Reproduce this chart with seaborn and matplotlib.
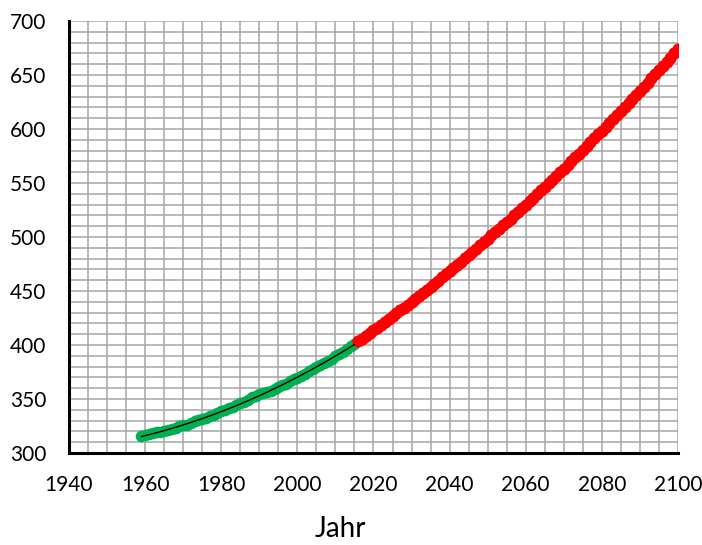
import numpy as np
import pandas as pd
import matplotlib
matplotlib.use("Agg")
import matplotlib.pyplot as plt
from matplotlib.ticker import MultipleLocator
import seaborn as sns

# Measured annual mean CO2 (ppm), 1959-2015
measured_years = list(range(1959, 2016))
measured_ppm = [
    315.97, 316.91, 317.64, 318.45, 318.99, 319.62, 320.04, 321.38, 322.16, 323.04,
    324.62, 325.68, 326.32, 327.45, 329.68, 330.18, 331.11, 332.04, 333.83, 335.40,
    336.84, 338.75, 340.11, 341.45, 343.05, 344.65, 346.12, 347.42, 349.19, 351.57,
    353.12, 354.39, 355.61, 356.45, 357.10, 358.83, 360.82, 362.61, 363.73, 366.70,
    368.38, 369.55, 371.14, 373.28, 375.80, 377.52, 379.80, 381.90, 383.79, 385.60,
    387.43, 389.90, 391.65, 393.85, 396.52, 398.65, 400.83,
]

# Projected CO2 (ppm), 2016-2100
projected_years = list(range(2016, 2101))
projected_ppm = [
    403.5, 406.0, 408.5, 411.1, 413.6, 416.2, 418.8, 421.4, 424.0, 426.6,
    429.3, 432.0, 434.7, 437.4, 440.1, 442.9, 445.6, 448.4, 451.2, 454.0,
    456.8, 459.7, 462.6, 465.4, 468.3, 471.3, 474.2, 477.2, 480.1, 483.1,
    486.1, 489.1, 492.2, 495.2, 498.3, 501.4, 504.5, 507.6, 510.8, 513.9,
    517.1, 520.3, 523.5, 526.7, 530.0, 533.2, 536.5, 539.8, 543.1, 546.5,
    549.8, 553.2, 556.6, 560.0, 563.4, 566.8, 570.3, 573.8, 577.2, 580.7,
    584.3, 587.8, 591.4, 594.9, 598.5, 602.1, 605.8, 609.4, 613.1, 616.7,
    620.4, 624.2, 627.9, 631.6, 635.4, 639.2, 643.0, 646.8, 650.6, 654.5,
    658.3, 662.2, 666.1, 670.0, 674.0,
]

x_label = "Jahr"

sns.set_style("white")
plt.rcParams["font.family"] = ["Lato", "DejaVu Sans"]

measured = pd.DataFrame({"Jahr": measured_years, "ppm": measured_ppm})
projected = pd.DataFrame({"Jahr": projected_years, "ppm": projected_ppm})

fig = plt.figure(figsize=(7.02, 5.45), dpi=100)
ax = fig.add_axes([0.0983, 0.1688, 0.8675, 0.7927])

sns.scatterplot(data=measured, x="Jahr", y="ppm", ax=ax, color="#00B050",
                s=70, linewidth=0, zorder=3, legend=False)
sns.scatterplot(data=projected, x="Jahr", y="ppm", ax=ax, color="#FF0000",
                s=78, linewidth=0, zorder=3, legend=False)
sns.regplot(data=measured, x="Jahr", y="ppm", ax=ax, order=2, ci=None,
            scatter=False, truncate=True,
            line_kws={"color": "black", "linewidth": 1.0, "zorder": 4})

ax.set_xlim(1940, 2100)
ax.set_ylim(300, 700)
ax.xaxis.set_major_locator(MultipleLocator(20))
ax.xaxis.set_minor_locator(MultipleLocator(5))
ax.yaxis.set_major_locator(MultipleLocator(50))
ax.yaxis.set_minor_locator(MultipleLocator(10))

ax.grid(True, which="both", color="#A6A6A6", linewidth=1.1, zorder=0)
ax.set_axisbelow(True)

for side in ("top", "right"):
    ax.spines[side].set_visible(False)
for side in ("left", "bottom"):
    ax.spines[side].set_color("black")
    ax.spines[side].set_linewidth(2.2)
    ax.spines[side].set_zorder(5)

ax.tick_params(which="major", direction="out", length=5.5, width=1.6,
               color="black", labelsize=15, labelcolor="black")
ax.tick_params(which="minor", direction="out", length=3.5, width=1.6,
               color="black")
ax.tick_params(axis="y", which="major", pad=11)
ax.tick_params(axis="x", which="major", pad=10)
ax.tick_params(axis="y", which="minor", length=4.5)

ax.set_xlabel(x_label, fontsize=20, color="black")
ax.xaxis.set_label_coords(0.445, -0.145)
ax.set_ylabel("")

fig.savefig("out.png", dpi=100)
